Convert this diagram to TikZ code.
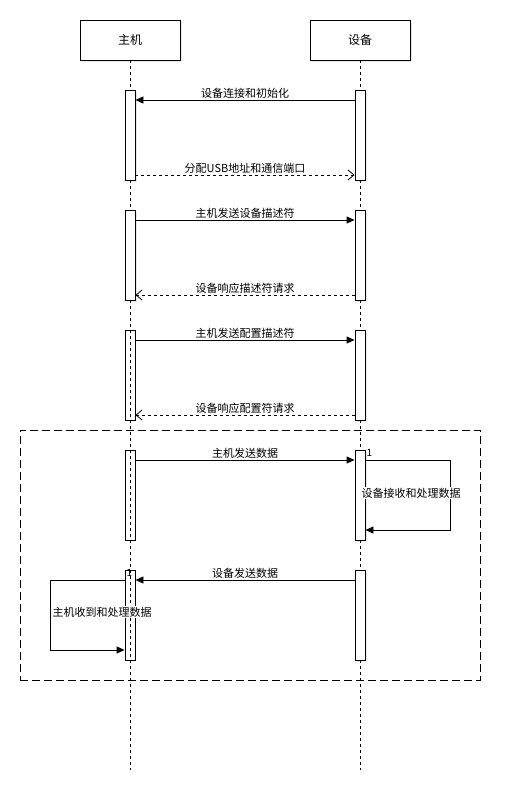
\documentclass[tikz,border=0pt]{standalone}
\usepackage{fontspec}
\setmainfont{Noto Sans CJK SC}
\usetikzlibrary{arrows.meta,shadows}
\begin{document}
\begin{tikzpicture}[x=1pt,y=-1pt,
  shd/.style={drop shadow={shadow xshift=2pt,shadow yshift=-2pt,opacity=0.18,fill=gray}},
  hdr/.style={draw,fill=white,shd,minimum width=100pt,minimum height=40pt,inner sep=0pt,line width=0.9pt,font=\fontsize{12}{14}\selectfont},
  act/.style={draw,fill=white,shd,minimum width=10pt,minimum height=90pt,inner sep=0pt,line width=0.9pt},
  acto/.style={draw,minimum width=10pt,minimum height=90pt,inner sep=0pt,line width=0.9pt},
  life/.style={dash pattern=on 3pt off 3pt,line width=0.8pt},
  msg/.style={-{Triangle[length=8pt,width=7pt]},line width=0.9pt},
  ret/.style={dash pattern=on 3pt off 3pt,-{Straight Barb[length=6pt,width=10pt,line width=0.8pt]},line width=0.8pt},
  lbl/.style={font=\fontsize{11}{13}\selectfont,fill=white,inner sep=1pt},
  num/.style={font=\fontsize{10}{12}\selectfont,inner sep=0pt}
]
\useasboundingbox (0,0) rectangle (507,797);
% frame
\node[draw,dash pattern=on 8pt off 4pt,line width=0.9pt,minimum width=460pt,minimum height=250pt,inner sep=0pt] (frame) at (250,555) {};
% headers
\node[hdr] (h) at (130,40) {主机};
\node[hdr] (d) at (360,40) {设备};
\coordinate (hend) at (130,770);
\coordinate (dend) at (360,770);
\draw[life] (h.south) -- (hend);
\draw[life] (d.south) -- (dend);
% activations
\node[act] (a1) at (130,135) {};
\node[act] (b1) at (360,135) {};
\node[act] (a2) at (130,255) {};
\node[act] (b2) at (360,255) {};
\node[acto] (a3) at (130,375) {};
\node[act] (b3) at (360,375) {};
\node[acto] (a4) at (130,495) {};
\node[act] (b4) at (360,495) {};
\node[acto] (a5) at (130,615) {};
\node[act] (b5) at (360,615) {};
% message rows
\coordinate (m1) at (0,100);
\coordinate (m2) at (0,175);
\coordinate (m3) at (0,220);
\coordinate (m4) at (0,295);
\coordinate (m5) at (0,340);
\coordinate (m6) at (0,415);
\coordinate (m7) at (0,460);
\coordinate (m8) at (0,530);
\coordinate (m9) at (0,580);
\coordinate (m10) at (0,650);
\draw[msg] (b1.west |- m1) -- (a1.east |- m1) node[lbl,midway,above=0pt] {设备连接和初始化};
\draw[ret] (a1.east |- m2) -- (b1.west |- m2) node[lbl,midway,above=0pt] {分配USB地址和通信端口};
\draw[msg] (a2.east |- m3) -- (b2.west |- m3) node[lbl,midway,above=0pt] {主机发送设备描述符};
\draw[ret] (b2.west |- m4) -- (a2.east |- m4) node[lbl,midway,above=0pt] {设备响应描述符请求};
\draw[msg] (a3.east |- m5) -- (b3.west |- m5) node[lbl,midway,above=0pt] {主机发送配置描述符};
\draw[ret] (b3.west |- m6) -- (a3.east |- m6) node[lbl,midway,above=0pt] {设备响应配置符请求};
\draw[msg] (a4.east |- m7) -- (b4.west |- m7) node[lbl,midway,above=0pt] {主机发送数据};
% device self loop
\coordinate (rx) at (450,0);
\draw[msg] (b4.east |- m7) -- (rx |- m7) -- (rx |- m8) -- (b4.east |- m8);
\node[lbl] (l1) at (411,493) {设备接收和处理数据};
\node[num] (n1) at (369.5,453) {1};
% device sends
\draw[msg] (b5.west |- m9) -- (a5.east |- m9) node[lbl,midway,above=0pt] {设备发送数据};
% host self loop
\coordinate (lx) at (50,0);
\draw[msg] (a5.west |- m9) -- (lx |- m9) -- (lx |- m10) -- (a5.west |- m10);
\node[lbl] (l2) at (102,612) {主机收到和处理数据};
\node[num] (n2) at (129.5,573) {1};
\end{tikzpicture}
\end{document}
